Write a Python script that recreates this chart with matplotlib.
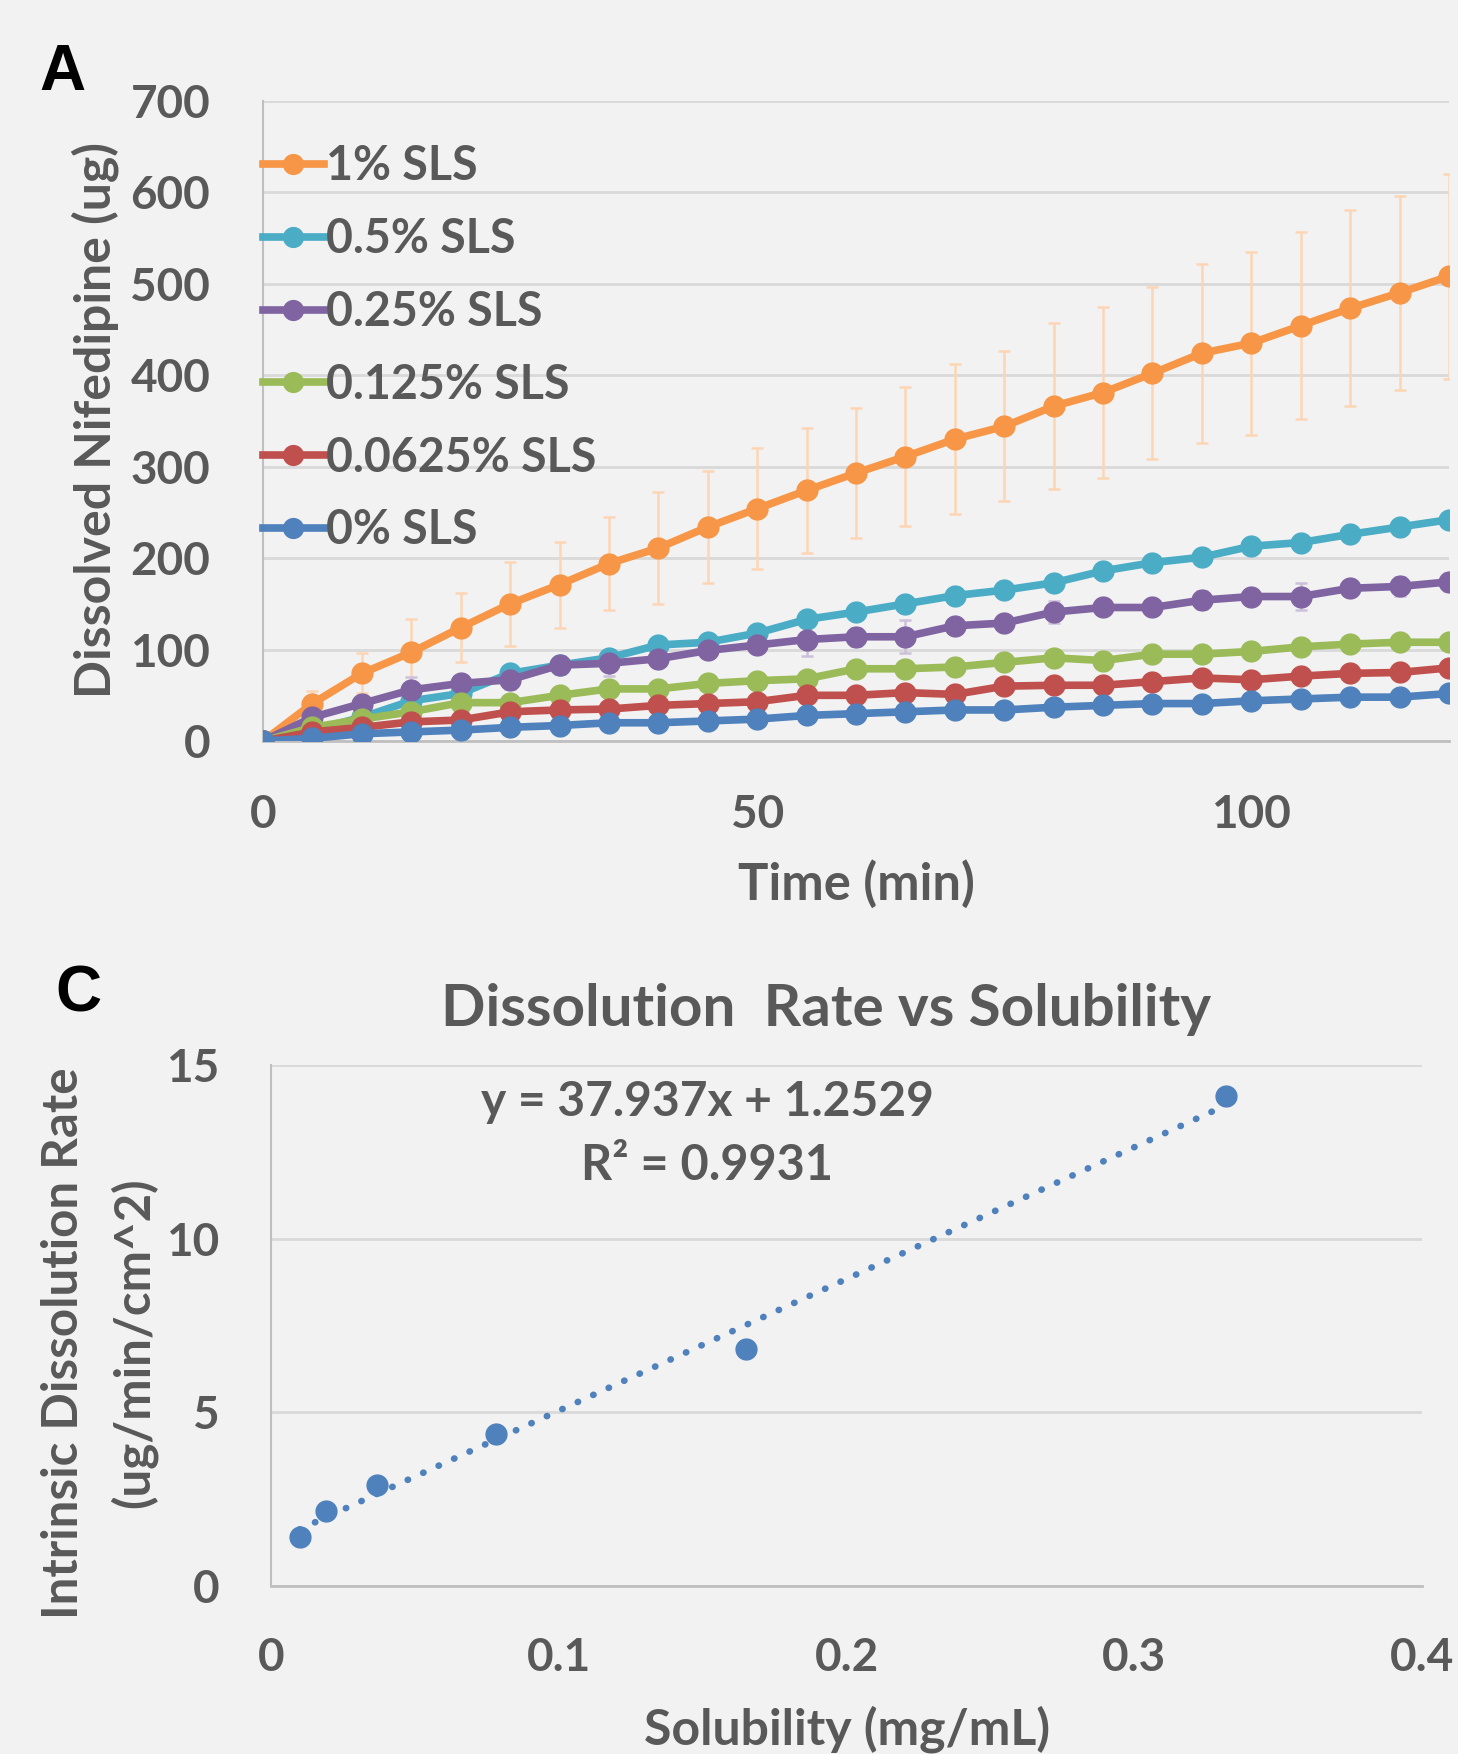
import numpy as np
import matplotlib
matplotlib.use("Agg")
import matplotlib.pyplot as plt

# ---- panel A data ----
time_min = [0, 5, 10, 15, 20, 25, 30, 35, 40, 45, 50, 55, 60, 65, 70, 75, 80, 85, 90, 95, 100, 105, 110, 115, 120]

labels = ["1% SLS", "0.5% SLS", "0.25% SLS", "0.125% SLS", "0.0625% SLS", "0% SLS"]
colors = ["#F79646", "#4BACC6", "#8064A2", "#9BBB59", "#C0504D", "#4F81BD"]
err_colors = ["#FCD5B4", "#B7DEE8", "#CCC0DA", "#D7E4BC", "#E6B8B7", "#B8CCE4"]

sls_1 = [0, 41, 74, 97, 124, 150, 171, 194, 211, 234, 254, 274, 293, 311, 330, 344, 366, 381, 402, 424, 435, 454, 473, 490, 508]
sls_05 = [0, 12, 26, 44, 52, 74, 83, 91, 105, 108, 118, 133, 141, 150, 159, 165, 173, 186, 195, 201, 213, 217, 226, 234, 242]
sls_025 = [0, 26, 41, 56, 63, 67, 83, 85, 90, 99, 105, 111, 114, 114, 126, 129, 141, 146, 146, 154, 158, 158, 167, 169, 174]
sls_0125 = [0, 15, 24, 32, 42, 42, 50, 57, 57, 63, 66, 68, 79, 79, 81, 86, 91, 88, 95, 95, 98, 103, 106, 108, 108]
sls_00625 = [0, 10, 15, 21, 23, 32, 34, 35, 39, 41, 43, 50, 50, 53, 51, 60, 61, 61, 65, 69, 67, 71, 74, 75, 80]
sls_0 = [0, 3, 8, 10, 12, 15, 17, 20, 20, 22, 24, 28, 30, 32, 34, 34, 37, 39, 41, 41, 44, 46, 48, 48, 52]

err_1 = [0, 14, 22, 36, 38, 46, 47, 51, 61, 61, 66, 68, 71, 76, 82, 82, 91, 93, 94, 98, 100, 102, 107, 106, 112]
err_05 = [0, 3, 4, 5, 6, 6, 5, 6, 6, 6, 5, 6, 5, 5, 6, 5, 6, 8, 5, 5, 7, 5, 7, 5, 7]
err_025 = [0, 4, 6, 14, 8, 10, 10, 14, 8, 8, 8, 18, 10, 18, 8, 6, 12, 6, 6, 10, 8, 15, 8, 10, 10]
err_0125 = [0, 3, 4, 4, 5, 6, 6, 6, 6, 6, 6, 8, 8, 6, 6, 6, 8, 8, 8, 8, 8, 8, 8, 8, 8]
err_00625 = [0, 3, 3, 4, 4, 5, 5, 5, 5, 5, 5, 5, 5, 6, 5, 6, 6, 6, 6, 8, 6, 6, 6, 6, 6]
err_0 = [0, 2, 2, 2, 2, 3, 3, 3, 3, 3, 3, 3, 3, 3, 3, 3, 3, 3, 3, 3, 3, 3, 3, 3, 3]

series = [sls_1, sls_05, sls_025, sls_0125, sls_00625, sls_0]
errors = [err_1, err_05, err_025, err_0125, err_00625, err_0]

# ---- panel C data ----
solubility = [0.0099, 0.0190, 0.0367, 0.0782, 0.165, 0.332]
idr = [1.40, 2.16, 2.91, 4.37, 6.81, 14.12]
slope, intercept = 37.937, 1.2529

bg = "#F2F2F2"
txt = "#595959"
grid = "#D9D9D9"
spine = "#BFBFBF"
font = "Lato"
fs = 33.5

fig = plt.figure(figsize=(14.58, 17.54), dpi=100, facecolor=bg)

# ---------------- panel A ----------------
ax = fig.add_axes([0.1804, 0.5775, 0.8134, 0.3651], facecolor=bg)
for i in range(len(series)):
    ax.errorbar(time_min, series[i], yerr=errors[i], fmt="none", ecolor=err_colors[i],
                elinewidth=1.8, capsize=4.5, capthick=1.8, zorder=2 + i * 0.1)
for i in range(len(series)):
    ax.plot(time_min, series[i], "-o", color=colors[i], lw=5.5, ms=15,
            label=labels[i], zorder=3 + i)

ax.set_xlim(0, 120)
ax.set_ylim(0, 700)
ax.set_xticks([0, 50, 100])
ax.set_yticks(range(0, 701, 100))
ax.yaxis.grid(True, color=grid, lw=2)
ax.set_axisbelow(True)
for s in ["top", "right"]:
    ax.spines[s].set_visible(False)
ax.spines["left"].set_color(spine)
ax.spines["bottom"].set_color(spine)
ax.spines["left"].set_linewidth(1.5)
ax.spines["bottom"].set_linewidth(2)
ax.tick_params(length=0, labelsize=33, labelcolor=txt, pad=38)
for lab in ax.get_xticklabels() + ax.get_yticklabels():
    lab.set_fontfamily(font)
    lab.set_fontweight("bold")

leg = ax.legend(loc="upper left", bbox_to_anchor=(0.0, 0.932), frameon=False,
                handlelength=1.3, handletextpad=0.05, labelspacing=0.62,
                borderpad=0, borderaxespad=0, markerscale=0.95,
                prop={"family": font, "weight": "bold", "size": fs})
for t in leg.get_texts():
    t.set_color(txt)

fig.text(95 / 1458, 1 - 420 / 1754, "Dissolved Nifedipine (ug)", rotation=90,
         ha="center", va="center", color=txt, fontsize=36, fontweight="bold", family=font)
fig.text(856 / 1458, 1 - 884 / 1754, "Time (min)", ha="center", va="center",
         color=txt, fontsize=36.5, fontweight="bold", family=font)
fig.text(62 / 1458, 1 - 73 / 1754, "A", ha="center", va="center", color="black",
         fontsize=46, fontweight="bold", family="Liberation Sans")

# ---------------- panel C ----------------
axc = fig.add_axes([0.1859, 0.0958, 0.7894, 0.2970], facecolor=bg)
xs = np.array([min(solubility), max(solubility)])
axc.plot(xs, slope * xs + intercept, color="#4F81BD", lw=4.8,
         linestyle=(0, (0.05, 2.5)), dash_capstyle="round", zorder=2)
axc.plot(solubility, idr, "o", color="#4F81BD", ms=15, zorder=3)
axc.set_xlim(0, 0.4)
axc.set_ylim(0, 15)
axc.set_xticks([0, 0.1, 0.2, 0.3, 0.4])
axc.set_xticklabels(["0", "0.1", "0.2", "0.3", "0.4"])
axc.set_yticks([0, 5, 10, 15])
axc.yaxis.grid(True, color=grid, lw=2)
axc.set_axisbelow(True)
for s in ["top", "right"]:
    axc.spines[s].set_visible(False)
axc.spines["left"].set_color(spine)
axc.spines["bottom"].set_color(spine)
axc.spines["left"].set_linewidth(1.5)
axc.spines["bottom"].set_linewidth(2)
axc.tick_params(length=0, labelsize=33, labelcolor=txt, pad=37)
for lab in axc.get_xticklabels() + axc.get_yticklabels():
    lab.set_fontfamily(font)
    lab.set_fontweight("bold")

fig.text(826 / 1458, 1 - 1010 / 1754, "Dissolution  Rate vs Solubility", ha="center", va="center",
         color=txt, fontsize=42, fontweight="bold", family=font)
fig.text(707 / 1458, 1 - 1102 / 1754, "y = 37.937x + 1.2529", ha="center", va="center",
         color=txt, fontsize=34.5, fontweight="bold", family=font)
fig.text(707 / 1458, 1 - 1166 / 1754, "R² = 0.9931", ha="center", va="center",
         color=txt, fontsize=35, fontweight="bold", family=font)
fig.text(64 / 1458, 1 - 1343 / 1754, "Intrinsic Dissolution Rate", rotation=90,
         ha="center", va="center", color=txt, fontsize=35.5, fontweight="bold", family=font)
fig.text(133 / 1458, 1 - 1343 / 1754, "(ug/min/cm^2)", rotation=90,
         ha="center", va="center", color=txt, fontsize=35.5, fontweight="bold", family=font)
fig.text(847 / 1458, 1 - 1729 / 1754, "Solubility (mg/mL)", ha="center", va="center",
         color=txt, fontsize=36, fontweight="bold", family=font)
fig.text(78 / 1458, 1 - 994 / 1754, "C", ha="center", va="center", color="black",
         fontsize=46, fontweight="bold", family="Liberation Sans")

fig.savefig("out.png", dpi=100, facecolor=bg)
